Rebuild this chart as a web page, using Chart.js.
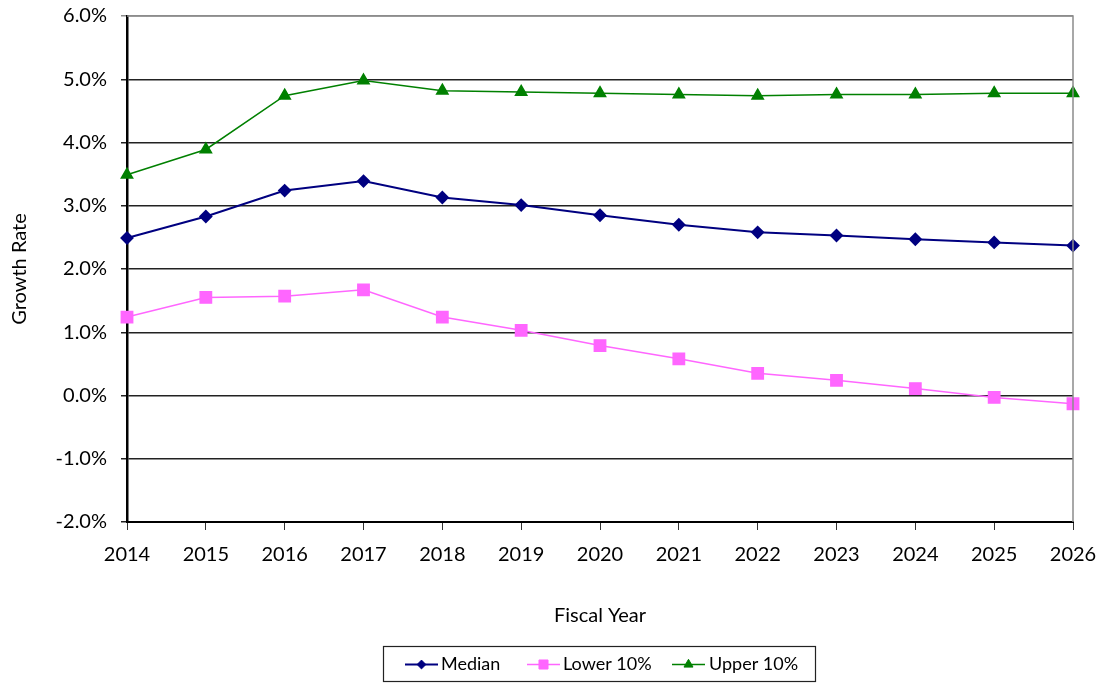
<!DOCTYPE html>
<html>
<head>
<meta charset="utf-8">
<script src="https://cdn.jsdelivr.net/npm/chart.js@4.4.1/dist/chart.umd.min.js"></script>
<style>
  html, body { margin: 0; padding: 0; background: #fff; }
  #wrap { width: 1108px; height: 685px; position: relative; }
</style>
</head>
<body>
<div id="wrap"><canvas id="c"></canvas></div>
<script>
const years = ['2014','2015','2016','2017','2018','2019','2020','2021','2022','2023','2024','2025','2026'];
const median = [2.49, 2.83, 3.24, 3.39, 3.13, 3.01, 2.85, 2.70, 2.58, 2.53, 2.47, 2.42, 2.37];
const lower10 = [1.24, 1.55, 1.57, 1.67, 1.24, 1.03, 0.79, 0.58, 0.35, 0.24, 0.11, -0.03, -0.13];
const upper10 = [3.49, 3.89, 4.74, 4.98, 4.82, 4.80, 4.78, 4.76, 4.74, 4.76, 4.76, 4.78, 4.78];
const yMin = -2, yMax = 6, yStep = 1;
const seriesNames = ['Median', 'Lower 10%', 'Upper 10%'];
const xTitle = 'Fiscal Year';
const yTitle = 'Growth Rate';

const FONT = 'Lato, "Open Sans", sans-serif';

const frameAndLegend = {
  id: 'frameAndLegend',
  afterDraw(chart) {
    const ctx = chart.ctx;
    const a = chart.chartArea;
    ctx.save();
    // top and right frame (gray)
    ctx.strokeStyle = '#8c8c8c';
    ctx.lineWidth = 1.5;
    ctx.beginPath();
    ctx.moveTo(a.left, a.top);
    ctx.lineTo(a.right, a.top);
    ctx.lineTo(a.right, a.bottom);
    ctx.stroke();

    // legend
    const boxL = 383, boxT = 646, boxW = 432, boxH = 35;
    ctx.strokeStyle = '#222';
    ctx.lineWidth = 1.2;
    ctx.strokeRect(boxL + 0.5, boxT + 0.5, boxW, boxH);
    const cy = boxT + boxH / 2 + 1;
    const items = [
      {x: 405, textX: 441},
      {x: 527, textX: 563},
      {x: 672, textX: 709}
    ];
    ctx.textBaseline = 'middle';
    chart.data.datasets.forEach((ds, i) => {
      const it = items[i];
      ctx.strokeStyle = ds.borderColor;
      ctx.fillStyle = ds.backgroundColor;
      ctx.lineWidth = ds.borderWidth;
      ctx.beginPath();
      ctx.moveTo(it.x, cy);
      ctx.lineTo(it.x + 33, cy);
      ctx.stroke();
      ctx.lineWidth = 1;
      Chart.helpers.drawPoint(ctx, {
        pointStyle: ds.pointStyle,
        radius: ds.pointRadius * 0.8,
        borderWidth: 1,
        rotation: 0
      }, it.x + 16.5, cy);
      ctx.fillStyle = '#000';
      ctx.font = '18px ' + FONT;
      ctx.fillText(ds.label, it.textX, cy);
    });
    ctx.restore();
  }
};

new Chart(document.getElementById('c'), {
  type: 'line',
  data: {
    labels: years,
    datasets: [
      {
        label: seriesNames[0], data: median,
        borderColor: '#000080', backgroundColor: '#000080',
        borderWidth: 2, pointStyle: 'rectRot', pointRadius: 5.5, pointHoverRadius: 5.5,
        tension: 0
      },
      {
        label: seriesNames[1], data: lower10,
        borderColor: '#FF66FF', backgroundColor: '#FF66FF',
        borderWidth: 1.5, pointStyle: 'rect', pointRadius: 8, pointHoverRadius: 8,
        tension: 0
      },
      {
        label: seriesNames[2], data: upper10,
        borderColor: '#008000', backgroundColor: '#008000',
        borderWidth: 1.5, pointStyle: 'triangle', pointRadius: 6.5, pointHoverRadius: 6.5,
        tension: 0
      }
    ]
  },
  options: {
    responsive: true,
    maintainAspectRatio: false,
    animation: false,
    clip: false,
    layout: { padding: { top: 16, right: 35, bottom: 55, left: 0 } },
    plugins: {
      legend: { display: false },
      tooltip: { enabled: false }
    },
    scales: {
      x: {
        type: 'category',
        offset: false,
        grid: {
          drawOnChartArea: false,
          drawTicks: true,
          tickLength: 8,
          color: '#333',
          lineWidth: 1
        },
        border: { display: true, color: '#000', width: 2 },
        ticks: {
          font: { family: FONT, size: 20 },
          color: '#000',
          padding: 13,
          maxRotation: 0,
          autoSkip: false
        },
        title: {
          display: true,
          text: xTitle,
          font: { family: FONT, size: 20 },
          color: '#000',
          padding: { top: 0, bottom: 2 }
        },
        afterFit(scale) { scale.height = 108; scale.paddingLeft = 0; scale.paddingRight = 0; }
      },
      y: {
        min: yMin, max: yMax,
        grid: {
          color: (ctx) => ctx.tick && ctx.tick.value === yMax ? '#8c8c8c' : '#222',
          lineWidth: 1.5,
          tickLength: 6,
          drawTicks: true
        },
        border: { display: true, color: '#000', width: 2.5 },
        ticks: {
          stepSize: yStep,
          font: { family: FONT, size: 20 },
          color: '#000',
          padding: 14,
          callback: (v) => v.toFixed(1) + '%'
        },
        title: {
          display: true,
          text: yTitle,
          font: { family: FONT, size: 20 },
          color: '#000',
          padding: { top: 8, bottom: 0 }
        },
        afterFit(scale) { scale.width = 127; scale.paddingTop = 0; scale.paddingBottom = 0; }
      }
    }
  },
  plugins: [frameAndLegend]
});
</script>
</body>
</html>
